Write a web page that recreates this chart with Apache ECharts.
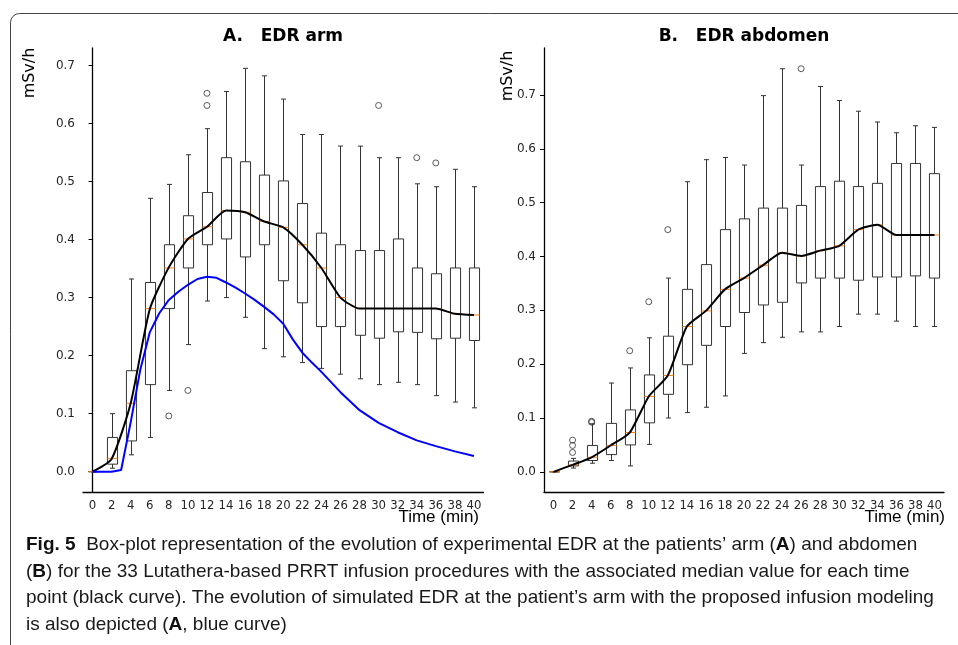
<!DOCTYPE html>
<html>
<head>
<meta charset="utf-8">
<script src="https://cdn.jsdelivr.net/npm/echarts@6/dist/echarts.min.js"></script>
<style>
  html, body { margin: 0; padding: 0; background: #fff; }
  #chart { width: 958px; height: 645px; }
</style>
</head>
<body>
<div id="chart"></div>
<script>
const times = ["0","2","4","6","8","10","12","14","16","18","20","22","24","26","28","30","32","34","36","38","40"];
const yTicks = [0, 0.1, 0.2, 0.3, 0.4, 0.5, 0.6, 0.7];

// [low whisker, Q1, median, Q3, high whisker]
const armBoxes = [
  [0, 0, 0, 0, 0],
  [0.006, 0.013, 0.023, 0.059, 0.100],
  [0.029, 0.053, 0.118, 0.174, 0.332],
  [0.059, 0.150, 0.281, 0.326, 0.471],
  [0.140, 0.281, 0.351, 0.391, 0.495],
  [0.219, 0.351, 0.401, 0.441, 0.546],
  [0.294, 0.391, 0.422, 0.481, 0.591],
  [0.300, 0.401, 0.450, 0.541, 0.655],
  [0.266, 0.370, 0.447, 0.534, 0.695],
  [0.212, 0.391, 0.431, 0.511, 0.682],
  [0.198, 0.329, 0.421, 0.501, 0.642],
  [0.188, 0.291, 0.391, 0.462, 0.581],
  [0.178, 0.250, 0.351, 0.411, 0.581],
  [0.168, 0.250, 0.300, 0.391, 0.561],
  [0.160, 0.235, 0.281, 0.381, 0.561],
  [0.150, 0.230, 0.281, 0.381, 0.541],
  [0.154, 0.241, 0.281, 0.401, 0.541],
  [0.150, 0.240, 0.281, 0.351, 0.496],
  [0.131, 0.229, 0.281, 0.341, 0.491],
  [0.120, 0.230, 0.272, 0.351, 0.521],
  [0.110, 0.226, 0.270, 0.351, 0.491]
];
const armMedian = [0, 0.022, 0.118, 0.280, 0.352, 0.401, 0.422, 0.450, 0.447, 0.431, 0.421,
  0.391, 0.351, 0.300, 0.281, 0.281, 0.281, 0.281, 0.281, 0.272, 0.270];
const armOutliers = [["8", 0.096], ["10", 0.140], ["12", 0.631], ["12", 0.652], ["30", 0.631], ["34", 0.541], ["36", 0.532]];

// simulated EDR (blue curve), minutes
const simTime = [0, 1, 2, 3, 4, 5, 6, 7, 8, 9, 10, 11, 12, 13, 14, 15, 16, 17, 18, 19, 20, 21, 22, 23, 24, 26, 28, 30, 32, 34, 36, 38, 40];
const simArm = [0, 0, 0, 0.003, 0.085, 0.175, 0.240, 0.273, 0.296, 0.310, 0.322, 0.332, 0.336, 0.334, 0.326, 0.317,
  0.307, 0.296, 0.284, 0.271, 0.255, 0.228, 0.205, 0.188, 0.172, 0.137, 0.106, 0.084, 0.068, 0.054, 0.044, 0.035, 0.027];

const abdBoxes = [
  [0, 0, 0, 0, 0],
  [0.007, 0.011, 0.013, 0.020, 0.025],
  [0.016, 0.021, 0.027, 0.049, 0.089],
  [0.021, 0.032, 0.049, 0.090, 0.165],
  [0.011, 0.050, 0.073, 0.115, 0.193],
  [0.051, 0.091, 0.140, 0.180, 0.249],
  [0.100, 0.144, 0.179, 0.252, 0.360],
  [0.110, 0.199, 0.270, 0.339, 0.539],
  [0.120, 0.235, 0.299, 0.385, 0.580],
  [0.141, 0.270, 0.339, 0.450, 0.584],
  [0.220, 0.296, 0.360, 0.470, 0.570],
  [0.240, 0.310, 0.384, 0.490, 0.699],
  [0.250, 0.315, 0.407, 0.490, 0.749],
  [0.260, 0.351, 0.401, 0.495, 0.570],
  [0.260, 0.360, 0.411, 0.530, 0.716],
  [0.270, 0.360, 0.420, 0.540, 0.690],
  [0.293, 0.356, 0.450, 0.530, 0.670],
  [0.293, 0.362, 0.459, 0.536, 0.650],
  [0.280, 0.362, 0.440, 0.573, 0.630],
  [0.270, 0.364, 0.440, 0.573, 0.643],
  [0.270, 0.360, 0.440, 0.554, 0.640]
];
const abdMedian = [0, 0.013, 0.027, 0.049, 0.073, 0.140, 0.179, 0.270, 0.299, 0.339, 0.360,
  0.384, 0.407, 0.401, 0.411, 0.420, 0.450, 0.459, 0.440, 0.440, 0.440];
const abdOutliers = [["2", 0.036], ["2", 0.049], ["2", 0.059], ["4", 0.092], ["4", 0.094], ["8", 0.225],
  ["10", 0.316], ["12", 0.450], ["26", 0.749]];

const BOX = "#333";
const MED = "#ff7f0e";
const TXT = "#262626";
const CAPTION_FONT = "'Liberation Sans', Arial, sans-serif";
const CAPTION_SIZE = 19;

function renderBox(params, api) {
  const i = api.value(0);
  const w = api.size([1, 0])[0] * 0.53;
  const lo = api.coord([i, api.value(1)]);
  const q1 = api.coord([i, api.value(2)]);
  const md = api.coord([i, api.value(3)]);
  const q3 = api.coord([i, api.value(4)]);
  const hi = api.coord([i, api.value(5)]);
  const x = Math.round(lo[0]) + 0.5;
  const seg = (x1, y1, x2, y2, stroke) => ({
    type: "line",
    shape: { x1, y1, x2, y2 },
    style: { stroke, lineWidth: 1 }
  });
  return {
    type: "group",
    children: [
      seg(x, q1[1], x, lo[1], BOX),
      seg(x, q3[1], x, hi[1], BOX),
      seg(x - w / 4, lo[1], x + w / 4, lo[1], BOX),
      seg(x - w / 4, hi[1], x + w / 4, hi[1], BOX),
      {
        type: "rect",
        shape: { x: x - w / 2, y: q3[1], width: w, height: q1[1] - q3[1] },
        style: { fill: "none", stroke: BOX, lineWidth: 1 }
      },
      seg(x - w / 2, md[1], x + w / 2, md[1], MED)
    ]
  };
}

function catAxis(gridIndex) {
  return {
    type: "category",
    gridIndex,
    data: times,
    boundaryGap: true,
    axisLine: { onZero: false, lineStyle: { color: "#000", width: 1.3 } },
    axisTick: { alignWithLabel: true, length: 4, lineStyle: { color: "#000" } },
    axisLabel: { color: TXT, fontFamily: "'Liberation Sans Narrow', 'DejaVu Sans Condensed', sans-serif", fontSize: 13, margin: 7, interval: 0 },
    splitLine: { show: false }
  };
}

function valAxis(gridIndex, min, max) {
  return {
    type: "value",
    gridIndex,
    min,
    max,
    axisLine: { show: true, lineStyle: { color: "#000", width: 1.3 } },
    axisTick: { show: true, length: 4, customValues: yTicks, lineStyle: { color: "#000" } },
    axisLabel: {
      customValues: yTicks,
      color: TXT,
      fontFamily: "DejaVu Sans",
      fontSize: 12,
      margin: 8,
      formatter: (v) => v.toFixed(1)
    },
    splitLine: { show: false }
  };
}

const chart = echarts.init(document.getElementById("chart"));

const text = (x, y, str, style, extra) => Object.assign({
  type: "text",
  x, y,
  style: Object.assign({ text: str, fill: TXT }, style)
}, extra || {});

const captionRich = { b: { fontWeight: "bold", fontFamily: CAPTION_FONT, fontSize: CAPTION_SIZE, fill: "#111" } };
const captionStyle = (s) => ({ text: s, fontFamily: CAPTION_FONT, fontSize: CAPTION_SIZE, fill: "#1a1a1a", rich: captionRich, verticalAlign: "middle" });

chart.setOption({
  animation: false,
  grid: [
    { left: 83, top: 48, width: 400.5, height: 444 },
    { left: 544, top: 48, width: 400, height: 444 }
  ],
  xAxis: [
    catAxis(0),
    { type: "value", gridIndex: 0, min: -1, max: 41, show: false },
    catAxis(1)
  ],
  yAxis: [
    valAxis(0, -0.035, 0.73),
    valAxis(1, -0.0375, 0.7875)
  ],
  series: [
    {
      type: "custom", xAxisIndex: 0, yAxisIndex: 0, z: 2,
      renderItem: renderBox,
      encode: { x: 0, y: [1, 2, 3, 4, 5] },
      data: armBoxes.map((b, i) => [i].concat(b))
    },
    {
      type: "scatter", xAxisIndex: 0, yAxisIndex: 0, z: 2,
      symbol: "circle", symbolSize: 6,
      itemStyle: { color: "rgba(0,0,0,0)", borderColor: BOX, borderWidth: 1 },
      data: armOutliers
    },
    {
      type: "line", xAxisIndex: 0, yAxisIndex: 0, z: 3,
      data: armMedian, symbol: "none", smooth: 0.2,
      lineStyle: { color: "#000", width: 2 }
    },
    {
      type: "line", xAxisIndex: 1, yAxisIndex: 0, z: 4,
      data: simTime.map((t, i) => [t, simArm[i]]), symbol: "none",
      lineStyle: { color: "#0000ff", width: 2 }
    },
    {
      type: "custom", xAxisIndex: 2, yAxisIndex: 1, z: 2,
      renderItem: renderBox,
      encode: { x: 0, y: [1, 2, 3, 4, 5] },
      data: abdBoxes.map((b, i) => [i].concat(b))
    },
    {
      type: "scatter", xAxisIndex: 2, yAxisIndex: 1, z: 2,
      symbol: "circle", symbolSize: 6,
      itemStyle: { color: "rgba(0,0,0,0)", borderColor: BOX, borderWidth: 1 },
      data: abdOutliers
    },
    {
      type: "line", xAxisIndex: 2, yAxisIndex: 1, z: 3,
      data: abdMedian, symbol: "none", smooth: 0.2,
      lineStyle: { color: "#000", width: 2 }
    }
  ],
  graphic: [
    {
      type: "rect",
      shape: { x: 10.5, y: 13.5, width: 1000, height: 700, r: 9 },
      style: { fill: "none", stroke: "#444", lineWidth: 1 }
    },
    text(283, 37, "A.   EDR arm", { fontFamily: "DejaVu Sans", fontWeight: "bold", fontSize: 17, fill: "#000", align: "center", verticalAlign: "middle" }),
    text(744, 37, "B.   EDR abdomen", { fontFamily: "DejaVu Sans", fontWeight: "bold", fontSize: 17, fill: "#000", align: "center", verticalAlign: "middle" }),
    text(30, 73, "mSv/h", { fontFamily: "DejaVu Sans", fontSize: 16, fill: "#000", align: "center", verticalAlign: "middle" }, { rotation: Math.PI / 2 }),
    text(508, 76, "mSv/h", { fontFamily: "DejaVu Sans", fontSize: 16, fill: "#000", align: "center", verticalAlign: "middle" }, { rotation: Math.PI / 2 }),
    text(479, 517, "Time (min)", { fontFamily: CAPTION_FONT, fontSize: 17, fill: "#000", align: "right", verticalAlign: "middle" }),
    text(945, 517, "Time (min)", { fontFamily: CAPTION_FONT, fontSize: 17, fill: "#000", align: "right", verticalAlign: "middle" }),
    { type: "text", x: 26, y: 545, style: captionStyle("{b|Fig. 5}  Box-plot representation of the evolution of experimental EDR at the patients\u2019 arm ({b|A}) and abdomen") },
    { type: "text", x: 26, y: 571.5, style: captionStyle("({b|B}) for the 33 Lutathera-based PRRT infusion procedures with the associated median value for each time") },
    { type: "text", x: 26, y: 598, style: captionStyle("point (black curve). The evolution of simulated EDR at the patient\u2019s arm with the proposed infusion modeling") },
    { type: "text", x: 26, y: 624.5, style: captionStyle("is also depicted ({b|A}, blue curve)") }
  ]
});
</script>
</body>
</html>
